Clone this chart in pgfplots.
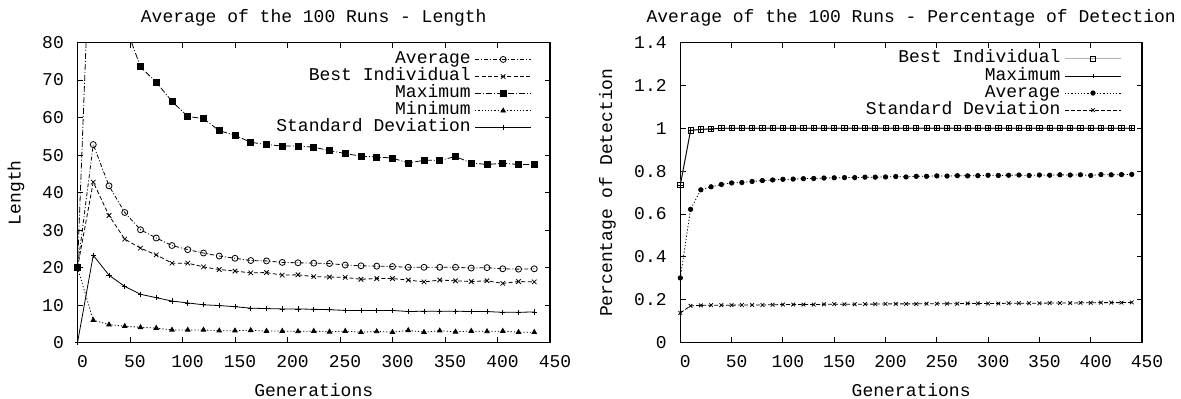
\documentclass[border=0pt]{standalone}
\usepackage{pgfplots}
\usepackage{pgfplotstable}
\pgfplotsset{compat=1.18}
\usepackage{fontspec}
\setmainfont{Liberation Mono}

\pgfplotstableread{
x avg best max min sd
0 20 20 20 20 0
15 52.8 42.8 130 6.0 23.3
30 41.8 33.9 105 4.8 18.0
45 34.7 27.6 85 4.4 15.0
60 30.1 25.2 73.5 4.1 12.9
75 27.9 23.4 69.4 3.9 12.0
90 25.9 21.2 64.3 3.4 11.1
105 24.8 21.2 60.3 3.4 10.6
120 23.9 20.2 59.7 3.4 10.1
135 23.1 19.5 56.5 3.2 9.9
150 22.5 19.1 55.3 3.2 9.6
165 21.9 18.6 53.4 3.3 9.2
180 21.8 18.7 52.8 3.1 9.1
195 21.4 18.0 52.4 3.1 9.0
210 21.3 18.1 52.4 3.0 9.0
225 21.2 17.6 52.1 3.1 8.9
240 21.1 17.5 51.2 2.9 8.8
255 20.7 17.4 50.4 3.1 8.6
270 20.5 16.9 49.7 2.8 8.6
285 20.4 17.1 49.5 3.0 8.6
300 20.3 17.1 49.2 2.8 8.6
315 20.1 16.7 47.9 3.3 8.3
330 20.1 16.2 48.6 2.8 8.4
345 20.1 16.7 48.6 3.2 8.4
360 20.1 16.5 49.6 2.9 8.4
375 19.9 16.3 47.9 3.1 8.3
390 20.0 16.5 47.5 3.0 8.3
405 19.7 15.8 47.8 3.1 8.1
420 19.6 16.3 47.5 2.8 8.1
435 19.7 16.2 47.5 2.8 8.2
}\lefttab

\pgfplotstableread{
x bi max avg sd
0 0.735 0.735 0.302 0.139
10 0.990 0.990 0.622 0.172
20 0.995 0.995 0.713 0.174
30 0.997 0.997 0.727 0.175
40 1.0 1.0 0.738 0.175
50 1.0 1.0 0.745 0.175
60 1.0 1.0 0.747 0.176
70 1.0 1.0 0.752 0.176
80 1.0 1.0 0.756 0.176
90 1.0 1.0 0.759 0.177
100 1.0 1.0 0.762 0.178
110 1.0 1.0 0.763 0.178
120 1.0 1.0 0.765 0.178
130 1.0 1.0 0.766 0.178
140 1.0 1.0 0.768 0.179
150 1.0 1.0 0.769 0.180
160 1.0 1.0 0.770 0.179
170 1.0 1.0 0.770 0.179
180 1.0 1.0 0.772 0.180
190 1.0 1.0 0.772 0.180
200 1.0 1.0 0.773 0.181
210 1.0 1.0 0.775 0.181
220 1.0 1.0 0.773 0.181
230 1.0 1.0 0.776 0.181
240 1.0 1.0 0.776 0.182
250 1.0 1.0 0.778 0.182
260 1.0 1.0 0.777 0.182
270 1.0 1.0 0.779 0.182
280 1.0 1.0 0.778 0.183
290 1.0 1.0 0.779 0.183
300 1.0 1.0 0.781 0.183
310 1.0 1.0 0.780 0.183
320 1.0 1.0 0.781 0.184
330 1.0 1.0 0.782 0.184
340 1.0 1.0 0.780 0.184
350 1.0 1.0 0.782 0.184
360 1.0 1.0 0.781 0.185
370 1.0 1.0 0.783 0.185
380 1.0 1.0 0.782 0.185
390 1.0 1.0 0.783 0.186
400 1.0 1.0 0.780 0.186
410 1.0 1.0 0.784 0.187
420 1.0 1.0 0.783 0.187
430 1.0 1.0 0.784 0.187
440 1.0 1.0 0.785 0.188
}\righttab

\pgfplotsset{
  gpaxis/.style={
    scale only axis,
    height=150.1pt,
    xmin=0, xmax=450,
    xtick={0,50,...,450},
    tick align=inside,
    tick pos=both,
    major tick length=2.75pt,
    axis line style={line width=0.6pt},
    every tick/.style={black, line width=0.5pt},
    /pgf/number format/assume math mode=true,
    xticklabel style={xshift=2.5pt, yshift=-3pt},
    yticklabel style={xshift=-3.3pt},
    title style={at={(0.5,1)}, anchor=center, yshift=6.5pt},
    xlabel style={at={(0.5,0)}, anchor=center, yshift=-23.5pt},
    legend cell align=right,
    legend plot pos=right,
    legend style={draw=none, fill=none, inner sep=0pt, column sep=2pt,
      nodes={inner sep=0pt, text height=6.3pt, text depth=2.25pt}},
    every axis plot/.append style={line width=0.4pt, black},
  },
}

\begin{document}
\begin{tikzpicture}[font=\fontsize{9}{10.5}\selectfont]
\path[use as bounding box] (0,0) rectangle (590.5pt,199pt);

% ---------------- Left: Length ----------------
\begin{axis}[gpaxis,
  at={(38.75pt,27.65pt)}, anchor=south west,
  width=236.25pt,
  ymin=0, ymax=80, ytick={0,10,...,80},
  title={Average of the 100 Runs - Length},
  xlabel={Generations},
  ylabel={Length},
  ylabel style={at={(axis description cs:-0.130,0.5)}, anchor=center},
  legend style={at={(1,1)}, anchor=north east, xshift=-9pt, yshift=-4pt},
  legend image code/.code={\draw[mark repeat=2,mark phase=2,#1] plot coordinates {(0pt,0pt)(14pt,0pt)(28pt,0pt)};},
]
\addplot[dash pattern=on 2pt off 1pt on 0.5pt off 1pt, mark=o, mark size=1.5pt, mark options={solid}]
  table[x=x,y=avg] {\lefttab};
\addlegendentry{Average}
\addplot[dash pattern=on 2pt off 1.2pt, mark=x, mark size=1.6pt, mark options={solid}]
  table[x=x,y=best] {\lefttab};
\addlegendentry{Best Individual}
\addplot[dash pattern=on 3pt off 1pt on 0.5pt off 1pt, mark=square*, mark size=1.5pt, mark options={solid}]
  table[x=x,y=max] {\lefttab};
\addlegendentry{Maximum}
\addplot[dash pattern=on 0.6pt off 1pt, mark=triangle*, mark size=1.3pt, mark options={solid}]
  table[x=x,y=min] {\lefttab};
\addlegendentry{Minimum}
\addplot[solid, mark=+, mark size=1.3pt]
  table[x=x,y=sd] {\lefttab};
\addlegendentry{Standard Deviation}
\end{axis}

% ---------------- Right: Percentage of Detection ----------------
\begin{axis}[gpaxis,
  at={(340.15pt,27.65pt)}, anchor=south west,
  width=230.85pt,
  ymin=0, ymax=1.4, ytick={0,0.2,...,1.4},
  yticklabels={0,0.2,0.4,0.6,0.8,1,1.2,1.4},
  title={Average of the 100 Runs - Percentage of Detection},
  xlabel={Generations},
  ylabel={Percentage of Detection},
  ylabel style={at={(axis description cs:-0.158,0.5)}, anchor=center},
  legend style={at={(1,1)}, anchor=north east, xshift=-10pt, yshift=-3.7pt},
  legend image code/.code={\draw[mark repeat=2,mark phase=2,#1] plot coordinates {(0pt,0pt)(14pt,0pt)(28pt,0pt)};},
]
\addplot[gray!60, line width=0.6pt, mark=square, mark size=1.3pt, mark options={black, line width=0.4pt}]
  table[x=x,y=bi] {\righttab};
\addlegendentry{Best Individual}
\addplot[solid, mark=+, mark size=1.2pt]
  table[x=x,y=max] {\righttab};
\addlegendentry{Maximum}
\addplot[dash pattern=on 0.6pt off 1pt, mark=*, mark size=1.1pt, mark options={solid}]
  table[x=x,y=avg] {\righttab};
\addlegendentry{Average}
\addplot[dash pattern=on 2pt off 1pt, mark=x, mark size=1.3pt, mark options={solid}]
  table[x=x,y=sd] {\righttab};
\addlegendentry{Standard Deviation}
\end{axis}
\end{tikzpicture}
\end{document}
